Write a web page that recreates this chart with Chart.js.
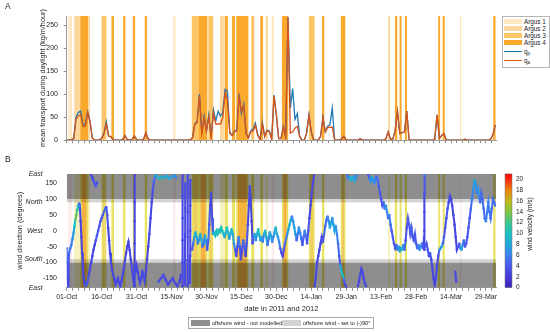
<!DOCTYPE html>
<html lang="en">
<head>
<meta charset="UTF-8">
<title>Transport and wind direction</title>
<script src="https://cdn.jsdelivr.net/npm/chart.js"></script>
<style>
  body { margin: 0; background: #fff; font-family: "Liberation Sans", Arial, sans-serif; }
  .wrap { position: relative; width: 550px; height: 332px; overflow: hidden; background: #fff; }
  canvas { position: absolute; left: 0; }
  #chartA { top: 0; }
  #chartB { top: 150px; }
  .tag { position: absolute; font-size: 8.5px; color: #222; }
  .legA { position: absolute; left: 502px; top: 16px; width: 46px; height: 50px; border: 1px solid #b5b5b5; background: #fff; font-size: 6.3px; color: #222; }
  .legA .it { position: absolute; left: 1px; height: 7px; line-height: 7px; white-space: nowrap; }
  .legA .sw { position: absolute; left: 0; width: 18px; }
  .legA .tx { position: absolute; left: 20px; }
  .legA sub { font-size: 4.5px; vertical-align: -1px; }
  .legB { position: absolute; left: 188px; top: 317px; width: 184px; height: 10px; border: 1px solid #a8a8a8; font-size: 5.6px; color: #222; }
  .legB .sw { position: absolute; top: 1.8px; width: 19px; height: 6px; }
  .legB .tx { position: absolute; top: 0; line-height: 10px; white-space: nowrap; }
  .cbt { position: absolute; left: 494px; top: 220px; width: 72px; text-align: center; font-size: 6.5px; color: #222; transform: rotate(-90deg); transform-origin: 36px 4px; white-space: nowrap; }
</style>
</head>
<body>
<div class="wrap">
  <canvas id="chartA" width="550" height="150"></canvas>
  <canvas id="chartB" width="550" height="182"></canvas>
  <div class="tag" style="left:5px; top:1px;">A</div>
  <div class="tag" style="left:5px; top:154px;">B</div>

  <div class="legA">
    <div class="it" style="top:1px;"><span class="sw" style="top:1px;height:5px;background:#fde8c2;"></span><span class="tx">Argus 1</span></div>
    <div class="it" style="top:8px;"><span class="sw" style="top:1px;height:5px;background:#fdd89c;"></span><span class="tx">Argus 2</span></div>
    <div class="it" style="top:15px;"><span class="sw" style="top:1px;height:5px;background:#fcc464;"></span><span class="tx">Argus 3</span></div>
    <div class="it" style="top:22px;"><span class="sw" style="top:1px;height:5px;background:#faa92c;"></span><span class="tx">Argus 4</span></div>
    <div class="it" style="top:30.5px;"><span class="sw" style="top:3px;height:1.3px;background:#1f77b4;"></span><span class="tx">q<sub>p</sub></span></div>
    <div class="it" style="top:40px;"><span class="sw" style="top:3px;height:1.3px;background:#d95319;"></span><span class="tx">q<sub>a</sub></span></div>
  </div>

  <div class="legB">
    <span class="sw" style="left:2px; background:#8e8e8e;"></span>
    <span class="tx" style="left:23px;">offshore wind - not modelled</span>
    <span class="sw" style="left:93px; background:#d3d3d3;"></span>
    <span class="tx" style="left:114px;">offshore wind - set to (-)90°</span>
  </div>

  <div class="cbt">wind velocity (m/s)</div>
</div>

<script>
// ---- data ----
// day index 0 = 01-Oct-2011
const dateLabels = ['01-Oct', '16-Oct', '31-Oct', '15-Nov', '30-Nov', '15-Dec', '30-Dec',
                    '14-Jan', '29-Jan', '13-Feb', '28-Feb', '14-Mar', '29-Mar'];
const transportTicks = [0, 50, 100, 150, 200, 250];
const directionTicks = [-150, -100, -50, 0, 50, 100, 150];
const compassValues = [180, 90, 0, -90, -180];
const compassNames = ['East', 'North', 'West', 'South', 'East'];
const speedTicks = [0, 2, 4, 6, 8, 10, 12, 14, 16, 18, 20];

// daily mean transport, day 0..184
const qp = [0, 0, 1, 3, 50, 60, 63, 33, 35, 62, 42, 4, 0, 0, 0, 4, 15, 40, 9, 7,
            1, 0, 0, 0, 1, 10, 1, 0, 1, 9, 1, 0, 0, 2, 16, 2, 0, 0, 0, 0,
            0, 0, 0, 0, 0, 0, 0, 0, 0, 0, 0, 0, 0, 1, 5, 36, 40, 100, 15, 52,
            20, 55, 5, 66, 42, 63, 52, 60, 110, 106, 18, 10, 20, 22, 100, 58, 78, 15, 5, 20,
            24, 37, 12, 1, 38, 8, 22, 20, 2, 98, 55, 3, 3, 30, 8, 268, 70, 112, 45, 58,
            8, 0, 0, 15, 55, 18, 0, 0, 0, 8, 50, 18, 30, 33, 70, 1, 0, 0, 2, 8,
            0, 0, 0, 0, 0, 0, 3, 0, 0, 0, 0, 0, 0, 0, 0, 0, 0, 2, 18, 2,
            2, 20, 63, 14, 16, 18, 63, 0, 0, 0, 0, 0, 0, 0, 0, 0, 0, 0, 2, 55,
            4, 10, 14, 0, 0, 0, 0, 0, 0, 0, 0, 2, 0, 0, 0, 0, 0, 0, 0, 0,
            0, 0, 2, 12, 33];
const qa = [0, 0, 1, 3, 45, 52, 56, 30, 30, 60, 40, 4, 0, 0, 0, 4, 13, 35, 9, 7,
            1, 0, 0, 0, 1, 10, 1, 0, 1, 9, 1, 0, 0, 2, 16, 2, 0, 0, 0, 0,
            0, 0, 0, 0, 0, 0, 0, 0, 0, 0, 0, 0, 0, 1, 5, 34, 38, 97, 14, 48,
            20, 50, 5, 59, 35, 35, 35, 48, 103, 86, 15, 10, 18, 20, 95, 62, 75, 15, 5, 18,
            20, 32, 10, 1, 36, 8, 20, 18, 2, 96, 55, 3, 3, 28, 8, 266, 15, 18, 26, 30,
            8, 0, 0, 15, 54, 18, 0, 0, 0, 8, 50, 18, 27, 28, 28, 1, 0, 0, 2, 8,
            0, 0, 0, 0, 0, 0, 3, 0, 0, 0, 0, 0, 0, 0, 0, 0, 0, 2, 18, 2,
            2, 20, 63, 14, 16, 18, 63, 0, 0, 0, 0, 0, 0, 0, 0, 0, 0, 0, 2, 55,
            4, 10, 14, 0, 0, 0, 0, 0, 0, 0, 0, 2, 0, 0, 0, 0, 0, 0, 0, 0,
            0, 0, 2, 12, 33];

// Argus coverage periods (start day, end day, level 1..4)
const bandStart = [0.7, 3.2, 5.8, 9.2, 15.0, 16.9, 19.2, 24.2, 28.4, 33.5, 45.7, 53.7, 56.8, 60.8, 65.8, 67.8, 71.0, 72.8,
                   79.2, 83.1, 85.4, 88.0, 92.4, 104.0, 109.6, 117.7, 138.0, 140.9, 142.9, 145.2, 159.5, 161.4, 168.8, 183.1];
const bandEnd   = [2.3, 5.8, 9.2, 10.0, 16.9, 17.4, 20.3, 25.2, 29.4, 34.5, 46.7, 56.8, 60.4, 62.9, 67.5, 69.2, 72.3, 78.0,
                   80.5, 84.3, 86.4, 89.0, 95.1, 106.4, 110.6, 119.6, 138.8, 141.9, 143.8, 146.1, 160.3, 162.3, 169.4, 184.1];
const bandLevel = [1, 2, 4, 2, 3, 1, 4, 4, 4, 4, 1, 3, 4, 3, 2, 4, 4, 4,
                   3, 4, 2, 1, 4, 3, 4, 4, 2, 4, 4, 4, 4, 4, 1, 4];

// wind sectors (degrees)
const offshoreLimit = 100;
const setLimit = 90;

// wind observations [day, direction (deg), speed (m/s)]; [day, null] breaks the trace
const windObs = [
  [0.0,-55,5],[0.2,-100,4],[0.4,-150,3],[0.6,-175,3],[0.8,-110,4],[1.0,-70,5],[1.5,-55,6],[2.0,-45,6],[2.5,-25,7],
  [3.0,-5,8],[3.3,15,10],[3.7,35,13],[4.1,50,13],[4.5,65,11],[4.9,78,8],[5.3,86,5],[5.7,70,3],[6.0,30,3],[6.3,-20,3],
  [6.6,-70,3],[6.9,-110,3],[7.2,-145,3],[7.6,-165,3],[8.0,-175,4],[8.5,-170,4],[9.0,-160,4],[9.5,-140,3],[10.0,-120,3],
  [10.5,-100,3],[11.0,-80,3],[11.5,-60,3],[12.0,-45,3],[12.5,-30,4],[13.0,-15,4],[13.5,0,4],[14.0,15,4],[14.5,30,4],
  [15.0,40,4],[15.5,50,4],[16.0,60,5],[16.5,70,5],[17.0,75,4],[17.4,50,4],[17.8,10,3],[18.2,-30,3],[18.6,-70,3],
  [19.0,-100,3],[19.5,-125,3],[20.0,-140,3],[20.5,-155,3],[21.0,-170,3],[21.5,-160,3],[22.0,-150,3],[22.5,-165,3],
  [23.0,-175,3],[23.5,-160,3],[24.0,-140,3],[24.5,-120,3],[25.0,-95,3],[25.5,-70,3],[26.0,-50,3],[26.5,-35,3],
  [27.0,-60,3],[27.5,-90,3],[28.0,-120,3],[28.5,-150,3],[29.0,-175,3],[29.05,-110,3],[29.1,-40,3],[29.15,30,3],
  [29.2,90,3],[29.25,140,3],[29.3,176,3],[29.3,null],
  [10.5,178,3],[11.0,168,3],[11.5,158,4],[12.0,150,4],[12.5,142,4],[13.0,152,3],[13.0,null],
  [29.5,-130,3],[30.0,-110,3],[30.5,-130,3],[31.0,-150,3],[31.5,-165,3],[32.0,-150,3],[32.5,-130,3],[33.0,-140,3],
  [33.5,-160,3],[34.0,-130,3],[34.5,-90,3],[35.0,-50,3],[35.5,-10,3],[36.0,40,3],[36.5,90,3],[37.0,130,4],
  [37.5,160,5],[38.0,172,7],[38.5,176,8],[39,170,9],[40,165,9],[41,172,8],[42,168,9],[43,174,8],[44,165,8],
  [45,170,7],[46,176,7],[47,168,6],[47,null],
  [39.5,-160,3],[40.5,-150,3],[41.5,-140,3],[42.5,-155,3],[43.5,-170,3],[44.5,-160,3],[45.5,-150,3],[46.5,-165,3],
  [47.5,-175,3],[48.5,-160,3],[49.0,-140,3],[49.0,null],
  [49.6,-175,3],[49.65,-100,3],[49.7,-30,3],[49.75,40,3],[49.8,110,3],[49.85,175,3],[49.85,null],
  [50.7,-170,3],[50.75,-90,3],[50.8,-10,3],[50.85,70,3],[50.9,150,4],[50.9,null],
  [51.8,-175,3],[51.85,-95,3],[51.9,-20,3],[51.95,60,3],[52.0,130,3],[52.05,178,4],[52.05,null],
  [52.9,-165,3],[52.95,-80,3],[53.0,0,3],[53.05,80,3],[53.1,160,3],[53.1,null],
  [53.8,-60,4],[54.3,-40,6],[54.8,-20,8],[55.3,-5,9],[55.8,-20,8],[56.3,-40,6],[56.8,-30,7],[57.3,-10,9],
  [57.8,-25,8],[58.3,-50,5],[58.8,-40,6],[59.3,-15,8],[59.8,-30,7],[60.3,-60,4],[60.8,-30,5],[61.2,20,4],
  [61.6,80,3],[62.0,120,3],[62.4,40,4],[62.8,-10,8],[63.3,-5,10],[63.8,-15,10],[64.3,0,10],[64.8,-10,10],
  [65.3,5,11],[65.8,-5,10],[66.3,10,10],[66.8,0,10],[67.3,-10,9],[67.8,-20,8],[68.3,-5,9],[68.8,10,10],
  [69.3,-5,9],[69.8,-25,7],[70.3,-10,9],[70.8,5,10],[71.3,-10,8],[71.8,-40,6],[72.3,-60,4],[72.8,-80,3],
  [73.3,-50,4],[73.8,-20,6],[74.3,-50,4],[74.8,-90,3],[75.3,-60,4],[75.8,-30,5],[76.3,-50,4],[76.8,-80,3],
  [77.3,-40,4],[77.8,20,3],[78.2,80,3],[78.6,140,3],[79.0,100,3],[79.4,30,3],[79.8,-40,4],[80.2,-20,6],
  [80.7,-10,8],[81.2,-30,7],[81.7,-10,9],[82.2,5,10],[82.7,-15,9],[83.2,-30,7],[83.7,-20,8],[84.2,-35,6],
  [84.7,-10,8],[85.2,0,9],[85.7,-20,8],[86.2,-45,5],[86.7,-25,7],[87.2,-5,8],[87.7,-15,8],[88.2,-35,6],
  [88.7,-20,7],[89.2,-5,8],[89.7,10,9],[90.2,-10,8],[90.7,-20,7],[91.2,-35,6],[91.7,-55,4],[92.2,-70,3],
  [92.7,-80,3],[93.2,-60,4],[93.7,-40,5],[94.2,-25,6],[94.7,-10,7],[95.2,5,8],[95.7,20,9],[96.2,35,8],
  [96.7,45,6],[97.2,30,7],[97.7,10,8],[98.2,-10,7],[98.7,-30,5],[99.2,-10,6],[99.7,10,7],[100.2,-5,6],
  [100.7,-25,5],[101.2,-45,4],[101.7,-20,5],[102.2,0,6],[102.7,-15,5],[103.2,-40,4],[103.7,0,4],[104.2,40,3],
  [104.7,80,3],[105.2,120,3],[105.7,150,3],[106.2,175,3],[106.2,null],
  [106.5,-175,3],[107.0,-140,3],[107.5,-100,3],[108.0,-80,3],[108.5,-60,3],[109.0,-40,3],[109.5,-20,3],
  [110.0,-35,4],[110.5,-10,5],[111.0,15,5],[111.5,35,5],[112.0,45,6],[112.5,30,7],[113.0,10,8],[113.5,25,8],
  [114.0,40,7],[114.5,20,8],[115.0,0,8],[115.5,15,7],[116.0,-10,6],[116.5,-40,5],[117.0,-80,4],[117.5,-110,8],
  [118.0,-130,10],[118.5,-140,9],[119.0,-155,4],[119.5,-170,3],[120.0,-178,3],[120.0,null],
  [120.5,175,5],[121.0,165,7],[121.5,170,8],[122.0,160,9],[122.5,168,9],[123.0,172,8],[123.5,158,8],[124.0,165,7],
  [124.5,175,6],[124.5,null],
  [125.0,-175,3],[125.5,-160,3],[126.0,-140,3],[126.5,-120,3],[127.0,-130,3],[127.5,-150,3],[128.0,-165,3],
  [128.5,-175,3],[128.5,null],
  [129.5,178,4],[130.0,165,6],[130.5,155,7],[131.0,170,8],[131.5,160,7],[132.0,150,6],[132.5,165,6],[133.0,172,5],
  [133.5,160,5],[134.0,140,4],[134.5,120,4],[135.0,100,4],[135.5,80,4],[136.0,90,5],[136.5,70,6],[137.0,80,7],
  [137.5,60,6],[138.0,40,5],[138.5,50,6],[139.0,20,5],[139.5,0,4],[140.0,-20,4],[140.5,-40,4],[141.0,-55,4],
  [141.5,-45,5],[142.0,-60,6],[142.5,-50,7],[143.0,-65,8],[143.5,-55,8],[144.0,-60,9],[144.5,-45,6],[145.0,-60,5],
  [145.5,-30,4],[146.0,10,4],[146.5,40,4],[147.0,20,4],[147.5,-10,4],[148.0,10,4],[148.5,-20,4],[149.0,-30,4],
  [149.5,-10,4],[150.0,-40,4],[150.5,-55,5],[151.0,-45,6],[151.5,-60,7],[152.0,-50,6],[152.5,-40,5],[153.0,-55,4],
  [153.4,-20,3],[153.4,null],
  [153.5,-60,3],[153.52,0,3],[153.55,60,3],[153.6,120,4],[153.65,176,6],[153.65,null],
  [154.0,-50,4],[154.5,-40,4],[155.0,-60,4],[155.5,-80,3],[156.0,-70,4],[156.5,-90,3],[157.0,-120,3],[157.5,-150,3],
  [158.0,-170,3],[158.5,-150,3],[159.0,-110,3],[159.5,-80,4],[160.0,-60,6],[160.5,-55,8],[161.0,-50,7],[161.5,-40,5],
  [162.0,-20,4],[162.5,10,4],[163.0,40,4],[163.5,70,4],[164.0,90,3],[164.5,110,3],[165.0,100,3],[165.5,80,3],
  [166.0,50,3],[166.5,20,3],[167.0,-20,3],[167.5,-60,3],[168.0,-50,4],[168.5,-40,5],[169.0,-55,7],[169.5,-60,8],
  [170.0,-45,6],[170.5,-30,5],[171.0,-50,4],[171.5,-40,4],[172.0,-20,4],[172.5,10,4],[173.0,40,4],[173.5,70,5],
  [174.0,100,6],[174.5,130,7],[175.0,160,8],[175.5,150,7],[176.0,120,6],[176.5,140,7],[177.0,110,6],[177.5,90,5],
  [178.0,120,5],[178.5,100,5],[179.0,70,5],[179.5,40,5],[180.0,30,6],[180.5,60,6],[181.0,90,6],[181.5,60,5],
  [182.0,40,5],[182.5,70,5],[183.0,100,5],[183.5,90,5],[184.0,80,5],[184.0,null],
  [166.8,-130,3],[167.2,-160,3]
];

// ---- styling ----
const dayMax = 184.3;
const speedMax = 21;
const argusColorsA = ['#fde8c2', '#fdd89c', '#fcc464', '#faa92c'];
const speedStops = [[0, '#3a22b4'], [2, '#4638d8'], [4, '#4a58ee'], [6, '#3a82ee'], [8, '#22a8dc'],
                    [10, '#1dbfc0'], [12, '#3cc690'], [14, '#84c642'], [16, '#c2b81e'], [18, '#e8840f'],
                    [20, '#f82a10'], [21, '#ff0000']];
const fontFam = '"Liberation Sans", Arial, sans-serif';
const txt = '#262626';

function hexRgb(h) { return [1, 3, 5].map(i => parseInt(h.substr(i, 2), 16)); }
function speedColor(s) {
  if (s == null) return 'rgba(0,0,0,0)';
  for (let i = 1; i < speedStops.length; i++) {
    if (s <= speedStops[i][0]) {
      const [v0, c0] = speedStops[i - 1], [v1, c1] = speedStops[i];
      const t = (s - v0) / (v1 - v0), a = hexRgb(c0), b = hexRgb(c1);
      return 'rgb(' + a.map((k, j) => Math.round(k + (b[j] - k) * t)).join(',') + ')';
    }
  }
  return speedStops[speedStops.length - 1][1];
}

const minorTicks = [];
for (let d = 0; d <= dayMax; d += 2.5) minorTicks.push({ value: d });

Chart.defaults.font.family = fontFam;
Chart.defaults.color = txt;
Chart.defaults.animation = false;

// ---- panel A ----
const bandsA = {
  id: 'bandsA',
  beforeDatasetsDraw(chart) {
    const { ctx, chartArea: a, scales: { x } } = chart;
    ctx.save();
    for (let i = 0; i < bandStart.length; i++) {
      const x0 = x.getPixelForValue(bandStart[i]), x1 = x.getPixelForValue(bandEnd[i]);
      ctx.fillStyle = argusColorsA[bandLevel[i] - 1];
      ctx.fillRect(x0, a.top, x1 - x0, a.bottom - a.top);
    }
    ctx.restore();
  }
};

new Chart(document.getElementById('chartA'), {
  type: 'line',
  data: {
    datasets: [
      { label: 'qa', data: qa.map((v, i) => ({ x: i, y: v })), borderColor: '#d95319', borderWidth: 1.3, pointRadius: 0, tension: 0 },
      { label: 'qp', data: qp.map((v, i) => ({ x: i, y: v })), borderColor: '#1f77b4', borderWidth: 1.3, pointRadius: 0, tension: 0 }
    ]
  },
  options: {
    responsive: false,
    layout: { padding: { left: 0, right: 54, top: 16, bottom: 0 } },
    plugins: { legend: { display: false }, tooltip: { enabled: false } },
    scales: {
      x: {
        type: 'linear', min: 0, max: dayMax,
        afterBuildTicks: s => { s.ticks = minorTicks.slice(); },
        afterFit: s => { s.height = 5; },
        ticks: { display: false },
        grid: { drawOnChartArea: false, drawTicks: true, tickLength: 3, color: '#888' },
        border: { color: '#9a9a9a' }
      },
      y: {
        min: 0, max: 270,
        afterBuildTicks: s => { s.ticks = transportTicks.map(v => ({ value: v })); },
        afterFit: s => { s.width = 66.7; },
        ticks: { font: { size: 7 }, padding: 5.7, color: txt },
        grid: { drawOnChartArea: false, drawTicks: true, tickLength: 3, color: '#888' },
        border: { color: '#9a9a9a' },
        title: { display: true, text: 'mean transport during daylight (kg/m/hour)', font: { size: 7.3 }, color: txt, padding: { top: 38.5, bottom: 0 } }
      }
    }
  },
  plugins: [bandsA]
});

// ---- panel B ----
const sectorsB = {
  id: 'sectorsB',
  beforeDatasetsDraw(chart) {
    const { ctx, chartArea: a, scales: { x, y } } = chart;
    ctx.save();
    ctx.beginPath(); ctx.rect(a.left, a.top, a.width, a.height); ctx.clip();
    const hband = (v0, v1, col) => {
      const p0 = y.getPixelForValue(v0), p1 = y.getPixelForValue(v1);
      ctx.fillStyle = col;
      ctx.fillRect(a.left, Math.min(p0, p1), a.width, Math.abs(p1 - p0));
    };
    hband(offshoreLimit, 180, '#8e8e8e');
    hband(setLimit, offshoreLimit, '#d3d3d3');
    hband(-offshoreLimit, -180, '#8e8e8e');
    hband(-setLimit, -offshoreLimit, '#d3d3d3');
    ctx.globalCompositeOperation = 'multiply';
    for (let i = 0; i < bandStart.length; i++) {
      const x0 = x.getPixelForValue(bandStart[i]), x1 = x.getPixelForValue(bandEnd[i]);
      const lv = bandLevel[i];
      if (lv <= 2) {
        ctx.fillStyle = lv === 1 ? '#fcecec' : '#f7f1c0';
        ctx.fillRect(x0, a.top, x1 - x0, a.height);
        continue;
      }
      const e = Math.min(1.6, (x1 - x0) / 2);
      ctx.fillStyle = '#e9e35c';
      ctx.fillRect(x0, a.top, e, a.height);
      ctx.fillRect(x1 - e, a.top, e, a.height);
      if (x1 - x0 > 2 * e) {
        ctx.fillStyle = lv === 4 ? '#f5b23e' : '#f0cc58';
        ctx.fillRect(x0 + e, a.top, x1 - x0 - 2 * e, a.height);
      }
    }
    ctx.restore();
  },
  afterDraw(chart) {
    const { ctx, scales: { cb } } = chart;
    const top = cb.getPixelForValue(speedMax), bot = cb.getPixelForValue(0);
    const g = ctx.createLinearGradient(0, bot, 0, top);
    speedStops.forEach(([v, c]) => g.addColorStop(v / speedMax, c));
    ctx.save();
    ctx.fillStyle = g;
    ctx.fillRect(cb.left + 9, top, 7, bot - top);
    ctx.strokeStyle = '#777';
    ctx.lineWidth = 0.5;
    ctx.strokeRect(cb.left + 9, top, 7, bot - top);
    ctx.restore();
  }
};

new Chart(document.getElementById('chartB'), {
  type: 'line',
  data: {
    datasets: [{
      label: 'wind',
      data: windObs.map(o => ({ x: o[0], y: o[1] })),
      showLine: true, spanGaps: false, tension: 0, borderWidth: 2.1,
      segment: { borderColor: c => speedColor(windObs[c.p0DataIndex][2]) },
      pointRadius: 1.3, pointBorderWidth: 0,
      pointBackgroundColor: c => speedColor(windObs[c.dataIndex] ? windObs[c.dataIndex][2] : null)
    }]
  },
  options: {
    responsive: false,
    layout: { padding: { left: 0, right: 0, top: 8.3, bottom: 14.3 } },
    plugins: { legend: { display: false }, tooltip: { enabled: false } },
    scales: {
      x: {
        type: 'linear', min: 0, max: dayMax,
        afterBuildTicks: s => { s.ticks = minorTicks.slice(); },
        afterFit: s => { s.height = 30; },
        ticks: {
          autoSkip: false, maxRotation: 0, padding: 2.5, font: { size: 7 }, color: txt,
          callback: v => (v % 15 === 0 && dateLabels[v / 15]) ? dateLabels[v / 15] : ''
        },
        grid: { drawOnChartArea: false, drawTicks: true, tickLength: 3, color: '#888' },
        border: { color: '#9a9a9a' },
        title: { display: true, text: 'date in 2011 and 2012', font: { size: 7.5 }, color: txt, padding: { top: 0, bottom: 4.7 } }
      },
      y: {
        min: -180, max: 180, weight: 0,
        afterBuildTicks: s => { s.ticks = directionTicks.map(v => ({ value: v })); },
        afterFit: s => { s.width = 24; },
        ticks: { font: { size: 7 }, padding: 9.7, color: txt },
        grid: { drawOnChartArea: false, drawTicks: false },
        border: { display: false }
      },
      compass: {
        position: 'left', min: -180, max: 180, weight: 1,
        afterBuildTicks: s => { s.ticks = compassValues.map(v => ({ value: v })); },
        afterFit: s => { s.width = 42.7; },
        ticks: { font: { size: 7, style: 'italic' }, padding: 0, color: txt, callback: (v, i) => compassNames[i] },
        grid: { display: false, drawTicks: false },
        border: { display: false },
        title: { display: true, text: 'wind direction (degrees)', font: { size: 7.3 }, color: txt, padding: { top: 15.5, bottom: 0 } }
      },
      cb: {
        position: 'right', min: 0, max: speedMax,
        afterBuildTicks: s => { s.ticks = speedTicks.map(v => ({ value: v })); },
        afterFit: s => { s.width = 54; },
        ticks: { font: { size: 6.5 }, padding: 20, color: txt },
        grid: { display: false, drawTicks: false },
        border: { display: false }
      }
    }
  },
  plugins: [sectorsB]
});
</script>
</body>
</html>
